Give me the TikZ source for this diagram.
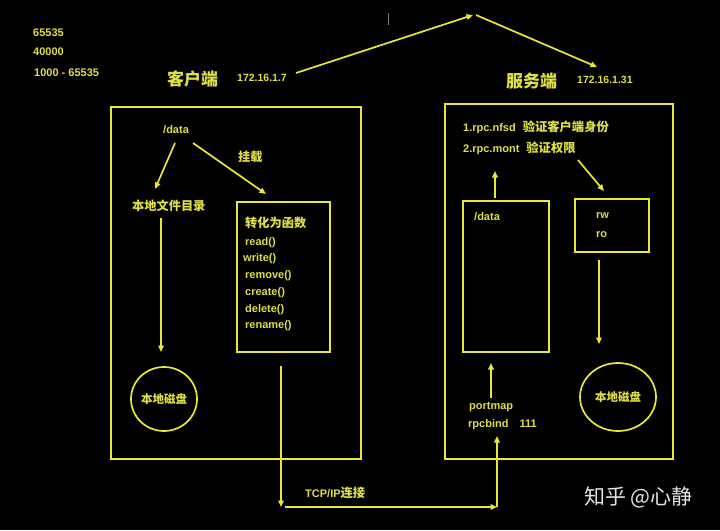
\documentclass[tikz,border=0pt]{standalone}
\usepackage{fontspec}
\setmainfont{Liberation Sans}
\newfontfamily\cjk{Noto Sans CJK SC}
\usetikzlibrary{arrows.meta,shapes.geometric}
\definecolor{yl}{RGB}{232,232,56}
\definecolor{yt}{RGB}{222,222,70}
\definecolor{wm}{RGB}{228,228,228}
\newcommand{\zhs}[1]{{\fontsize{12.3}{13}\selectfont\cjk\bfseries #1}}
\tikzset{
  lbl/.style={text=yt, font=\fontsize{11}{12}\selectfont\bfseries, inner sep=0pt, anchor=west},
  zh/.style={text=yt, font=\fontsize{12.2}{13}\selectfont\cjk\bfseries, inner sep=0pt, anchor=west},
  big/.style={text=yt, font=\fontsize{17}{18}\selectfont\cjk\bfseries, inner sep=0pt, anchor=west},
  box/.style={draw=yl, line width=1.7pt, inner sep=0pt},
  disk/.style={draw=yl, line width=1.7pt, ellipse, inner sep=0pt, text=yt, font=\fontsize{11.5}{12}\selectfont\cjk\bfseries},
  arr/.style={draw=yl, line width=1.7pt, -{Triangle[length=6.5pt,width=5.5pt]}},
  ln/.style={draw=yl, line width=1.7pt}
}
\begin{document}
\begin{tikzpicture}[x=1pt,y=-1pt]
\fill[black] (0,0) rectangle (720,530);
\useasboundingbox (0,0) rectangle (720,530);

% top-left numbers
\node[lbl] (n1) at (33,33) {65535};
\node[lbl] (n2) at (33,52) {40000};
\node[lbl] (n3) at (34,73) {1000 - 65535};

% titles
\node[big] (kh) at (167,79) {客户端};
\node[lbl, font=\fontsize{10.5}{12}\selectfont\bfseries] (ipc) at (237,78) {172.16.1.7};
\node[big] (fw) at (506,81) {服务端};
\node[lbl, font=\fontsize{10.5}{12}\selectfont\bfseries] (ips) at (577,80) {172.16.1.31};
\coordinate (ipcend) at (296,73);
\coordinate (apex) at (473,15);
\coordinate (apex2) at (476,15);
\coordinate (ipsend) at (597,67);
\draw[arr] (ipcend) -- (apex);
\draw[arr] (apex2) -- (ipsend);
\coordinate (cur1) at (388,13);
\coordinate (cur2) at (388,25);
\draw[gray, line width=1pt] (cur1) -- (cur2);

% client box
\node[box, minimum width=250pt, minimum height=352pt] (cbox) at (236,283) {};
\node[lbl] (cdata) at (163,130) {/data};
\node[zh] (gz) at (238,157) {挂载};
\node[zh] (bd) at (132,206) {本地文件目录};
\node[box, minimum width=93pt, minimum height=150pt] (fbox) at (283.5,277) {};
\node[zh] (zh1) at (245,223) {转化为函数};
\node[lbl] (f1) at (245,243) {read()};
\node[lbl] (f2) at (243,259) {write()};
\node[lbl] (f3) at (245,276) {remove()};
\node[lbl] (f4) at (245,293) {create()};
\node[lbl] (f5) at (245,310) {delete()};
\node[lbl] (f6) at (245,326) {rename()};
\node[disk, minimum width=66pt, minimum height=64pt] (cdisk) at (164,399) {本地磁盘};

\coordinate (a1s) at (175,143);
\coordinate (a1e) at (155,189);
\coordinate (a2s) at (193,143);
\coordinate (a2e) at (266,194);
\coordinate (a3s) at (161,218);
\coordinate (a3e) at (161,352);
\draw[arr] (a1s) -- (a1e);
\draw[arr] (a2s) -- (a2e);
\draw[arr] (a3s) -- (a3e);

% TCP/IP
\coordinate (t1) at (281,366);
\coordinate (t2) at (281,507);
\coordinate (t3) at (285,507);
\coordinate (t4) at (497,507);
\coordinate (t5) at (497,436);
\draw[arr] (t1) -- (t2);
\draw[arr] (t3) -- (t4);
\draw[arr] (t4) -- (t5);
\node[lbl] (tcp) at (305,493) {TCP/IP\zhs{连接}};

% server box
\node[box, minimum width=228pt, minimum height=355pt] (sbox) at (559,281.5) {};
\node[lbl] (r1) at (463,127) {1.rpc.nfsd\hspace{7pt}\zhs{验证客户端身份}};
\node[lbl] (r2) at (463,148) {2.rpc.mont\hspace{7pt}\zhs{验证权限}};
\node[box, minimum width=86pt, minimum height=151pt] (dbox) at (506,276.5) {};
\node[lbl] (sdata) at (474,217) {/data};
\node[box, minimum width=74pt, minimum height=53pt] (rbox) at (612,225.5) {};
\node[lbl] (rw) at (596,216) {rw};
\node[lbl] (ro) at (596,235) {ro};
\node[disk, minimum width=76pt, minimum height=68pt] (sdisk) at (618,397) {本地磁盘};
\node[lbl] (pm) at (469,407) {portmap};
\node[lbl] (rb) at (468,425) {rpcbind\hspace{11pt}111};

\coordinate (b1s) at (495,198);
\coordinate (b1e) at (495,171);
\coordinate (b2s) at (578,160);
\coordinate (b2e) at (604,191);
\coordinate (b3s) at (599,260);
\coordinate (b3e) at (599,344);
\coordinate (b4s) at (491,398);
\coordinate (b4e) at (491,363);
\draw[arr] (b1s) -- (b1e);
\draw[arr] (b2s) -- (b2e);
\draw[arr] (b3s) -- (b3e);
\draw[arr] (b4s) -- (b4e);

% watermark
\node[anchor=west, inner sep=0pt, text=wm, font=\fontsize{21}{22}\selectfont\cjk] (wmk) at (584,497) {知乎 @心静};
\end{tikzpicture}
\end{document}
